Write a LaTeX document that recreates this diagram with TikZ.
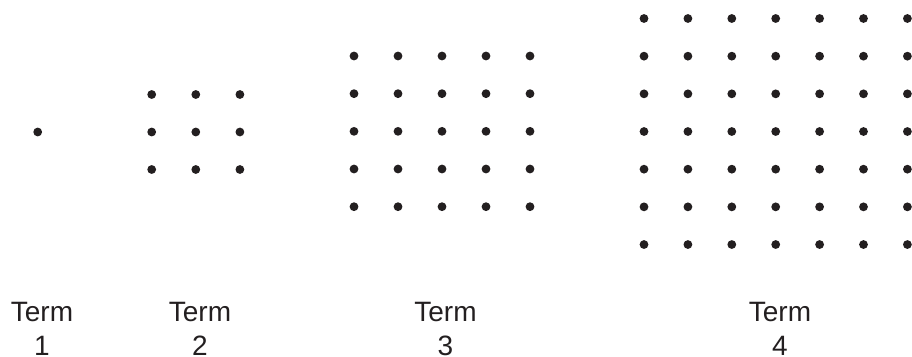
\documentclass[tikz,border=0pt]{standalone}
\usepackage{fontspec}
\setmainfont{Liberation Sans}
\definecolor{ink}{HTML}{231F20}
\begin{document}
\begin{tikzpicture}[x=1pt,y=-1pt,
  dotmark/.style={fill=ink},
  lbl/.style={anchor=base,inner sep=0pt,text=ink,font=\fontsize{28}{34}\selectfont}]
\useasboundingbox (0,0) rectangle (912,356);
% Term 1
\fill[dotmark] (37.7,132) circle (4.4);
% Term 2
\foreach \i in {0,1,2}{
  \foreach \y in {94.5,132,169.5}{
    \fill[dotmark] (151.7+44.1*\i,\y) circle (4.4);
  }
}
% Term 3
\foreach \i in {0,...,4}{
  \foreach \j in {0,...,4}{
    \fill[dotmark] (354+44*\i,56+37.67*\j) circle (4.4);
  }
}
% Term 4
\foreach \i in {0,...,6}{
  \foreach \j in {0,...,6}{
    \fill[dotmark] (644+43.9*\i,18.5+37.67*\j) circle (4.4);
  }
}
% Labels
\node[lbl] (t1) at (42,321) {Term};
\node[lbl] (n1) at (42,355) {1};
\node[lbl] (t2) at (200,321) {Term};
\node[lbl] (n2) at (200,355) {2};
\node[lbl] (t3) at (445.5,321) {Term};
\node[lbl] (n3) at (445.5,355) {3};
\node[lbl] (t4) at (780,321) {Term};
\node[lbl] (n4) at (780,355) {4};
\end{tikzpicture}
\end{document}
